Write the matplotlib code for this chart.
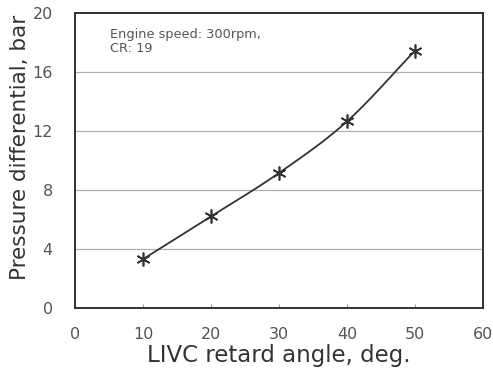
import numpy as np
import matplotlib.pyplot as plt

plt.rcParams['font.family'] = ['DejaVu Sans']

# LIVC retard angle vs. pressure differential
retard_angle = np.array([10, 20, 30, 40, 50])
pressure_diff = np.array([3.3, 6.2, 9.15, 12.65, 17.45])


def catmull_rom(x, y, n=30):
    # smooth curve through the measured points
    px = np.concatenate(([2 * x[0] - x[1]], x, [2 * x[-1] - x[-2]]))
    py = np.concatenate(([2 * y[0] - y[1]], y, [2 * y[-1] - y[-2]]))
    xs, ys = [], []
    t = np.linspace(0, 1, n)
    for i in range(1, len(px) - 2):
        for p, out in ((px, xs), (py, ys)):
            p0, p1, p2, p3 = p[i - 1], p[i], p[i + 1], p[i + 2]
            out.append(0.5 * (2 * p1 + (-p0 + p2) * t
                              + (2 * p0 - 5 * p1 + 4 * p2 - p3) * t ** 2
                              + (-p0 + 3 * p1 - 3 * p2 + p3) * t ** 3))
    return np.concatenate(xs), np.concatenate(ys)


xc, yc = catmull_rom(retard_angle, pressure_diff)

fig = plt.figure(figsize=(4.93, 3.70), dpi=100)
ax = fig.add_axes([0.152, 0.168, 0.828, 0.797])

for yv in [4, 8, 12, 16]:
    ax.axhline(yv, color='#b0b0b0', linewidth=0.9, zorder=1)

ax.plot(xc, yc, color='#333333', linewidth=1.3, zorder=2)
ax.plot(retard_angle, pressure_diff, linestyle='none', marker=(6, 2, 0),
        markersize=10, markeredgewidth=1.2, color='#333333', zorder=3)

ax.set_xlim(0, 60)
ax.set_ylim(0, 20)
ax.set_xticks(range(0, 61, 10))
ax.set_yticks(range(0, 21, 4))
ax.tick_params(axis='x', direction='in', length=3, width=0.8, colors='#999999',
               labelcolor='#555555', labelsize=11.5, pad=14)
ax.tick_params(axis='y', length=0, labelcolor='#555555', labelsize=11.5, pad=16)
for s in ax.spines.values():
    s.set_color('#333333')
    s.set_linewidth(1.4)

ax.set_xlabel('LIVC retard angle, deg.', fontsize=16.5, color='#333333', labelpad=1)
ax.set_ylabel('Pressure differential, bar', fontsize=15.5, color='#333333')
ax.yaxis.set_label_coords(-0.11, 0.545)

ax.text(5.2, 19.0, 'Engine speed: 300rpm,\nCR: 19', fontsize=9.3, color='#555555',
        va='top', ha='left', linespacing=1.1)

fig.savefig('out.png', dpi=100)
